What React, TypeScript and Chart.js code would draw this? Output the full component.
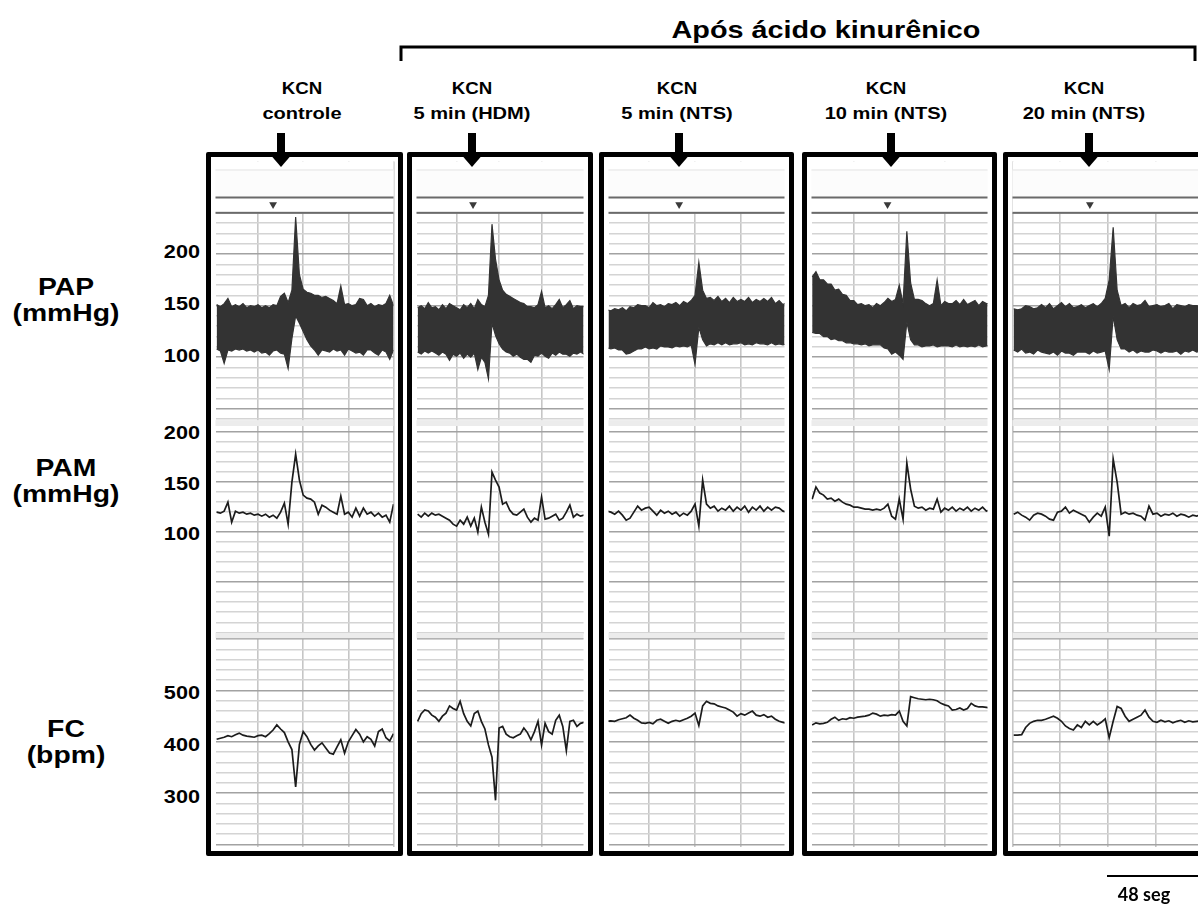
import React, { useEffect, useRef } from "react";
import { Chart, registerables } from "chart.js";

Chart.register(...registerables);

// ---------- data ----------
const PANEL_TOP = ["KCN", "KCN", "KCN", "KCN", "KCN"];
const PANEL_SUB = ["controle", "5 min (HDM)", "5 min (NTS)", "10 min (NTS)", "20 min (NTS)"];
const GROUP_TITLE = "Após ácido kinurênico";
const SCALE_LABEL = "48 seg";

// time (s): samples every 2 s starting at 2 s
const T_START = 2;
const T_STEP = 2;
const X_MIN = [1.4, 1.35, 2.75, 1.65, 1.4];
const X_MAX = [96.0, 95.7, 94.8, 94.6, 97.4];
const STIM_T = [32, 33.3, 39.7, 41.8, 40.3];

// PAP (mmHg) envelope: max / min of the pulsatile trace in each sample window
const P1_PAP_MAX = [151,149,152,157,149,151,149,152,148,150,149,151,148,150,148,151,150,159,162,153,165,236,180,166,163,162,160,160,158,159,157,155,152,169,151,152,150,151,157,156,150,152,149,151,150,152,160,150];
const P1_PAP_MIN = [108,106,94,107,106,108,107,108,106,107,105,107,104,105,102,106,107,104,103,89,118,140,133,125,117,111,107,102,107,106,105,108,106,107,102,108,106,104,105,102,107,107,104,102,107,105,98,107];
const P2_PAP_MAX = [148,150,147,153,148,149,146,151,147,152,150,148,146,151,148,152,147,156,151,149,160,229,195,175,165,161,159,157,155,153,152,149,149,148,151,164,148,150,147,151,156,148,151,155,147,150,149,149];
const P2_PAP_MIN = [105,103,106,104,106,104,102,105,103,97,103,101,104,99,103,100,104,88,100,95,79,133,121,113,108,105,104,101,103,100,98,98,95,102,101,104,101,99,104,102,105,103,103,101,104,103,105,103];
const P3_PAP_MAX = [146,145,147,146,148,145,149,148,151,150,150,148,153,150,151,149,152,151,153,150,154,152,155,160,192,165,157,158,155,159,154,157,153,158,154,156,154,158,153,156,154,157,154,158,152,155,151,153];
const P3_PAP_MIN = [109,108,109,107,107,103,104,106,108,108,110,108,109,108,111,110,110,109,111,110,111,110,112,93,129,117,111,113,112,114,112,114,112,113,113,114,112,113,112,114,113,113,112,114,112,113,112,113];
const P4_PAP_MAX = [178,183,175,175,171,171,165,166,161,160,155,155,151,152,150,151,148,152,150,153,157,154,156,170,152,222,172,156,156,155,152,150,152,175,150,154,152,152,155,151,156,151,153,155,150,154,152,152];
const P4_PAP_MIN = [124,123,123,120,120,117,118,116,116,114,114,113,113,112,113,111,112,112,112,109,108,103,105,102,98,134,117,112,112,110,111,111,112,110,111,111,111,110,112,110,111,110,111,110,112,110,111,111];
const P5_PAP_MAX = [147,146,147,150,149,147,148,151,148,152,147,150,153,149,152,148,149,151,148,150,152,149,152,157,175,226,165,150,152,148,152,150,151,155,149,150,151,149,150,152,147,151,150,149,151,150,150,149];
const P5_PAP_MIN = [107,105,108,104,105,103,107,105,104,103,105,102,106,104,104,102,105,105,105,103,106,104,105,106,88,140,117,108,108,105,107,104,106,105,105,107,106,104,106,105,105,106,103,106,105,107,105,106];

// PAM (mmHg)
const P1_PAM = [120,119,121,130,110,121,119,120,118,119,117,118,116,118,115,117,114,120,129,108,150,178,152,137,134,133,130,118,127,125,122,120,118,136,118,120,115,124,116,124,118,120,116,119,115,117,110,128];
const P2_PAM = [118,115,119,116,119,117,118,116,114,112,108,106,112,108,115,106,114,100,125,110,98,160,152,145,128,130,122,118,117,120,123,115,110,114,112,135,113,114,116,118,112,114,120,127,115,118,116,117];
const P3_PAM = [121,120,118,121,117,112,114,120,126,122,124,125,121,117,122,119,121,118,120,116,119,117,121,128,106,152,128,124,126,121,124,122,126,121,125,122,126,120,125,122,126,121,125,122,125,124,121,120];
const P4_PAM = [133,145,139,137,133,134,131,133,130,128,127,125,125,124,123,123,122,123,122,124,128,116,113,133,113,169,143,126,124,125,122,124,123,133,120,124,122,125,121,124,122,125,121,124,122,125,121,122];
const P5_PAM = [118,120,117,115,112,117,119,118,116,113,112,120,121,125,119,122,120,118,116,110,115,119,116,125,96,173,150,118,120,118,119,117,116,112,126,118,119,116,118,117,119,116,118,117,115,117,116,118];

// FC (bpm)
const P1_FC = [405,407,409,412,410,414,417,413,411,410,409,412,413,410,416,423,433,425,418,400,385,312,395,420,410,395,384,392,398,388,378,376,390,404,378,400,412,424,415,400,410,405,392,420,425,408,402,416];
const P2_FC = [440,455,462,460,452,448,440,450,456,470,465,462,479,455,440,431,455,460,440,425,394,370,286,427,430,415,410,408,412,415,427,418,404,420,440,394,436,420,415,442,452,430,383,440,442,430,436,438];
const P3_FC = [440,441,440,443,445,447,452,446,442,437,436,438,435,442,444,440,436,440,442,440,443,446,450,456,432,470,479,475,474,470,468,466,462,458,450,455,452,456,460,452,450,453,448,450,444,440,438,436];
const P4_FC = [433,437,435,436,438,444,448,442,445,444,447,446,448,449,450,452,456,454,450,452,451,453,452,460,440,431,488,486,484,483,482,483,482,480,475,472,470,462,463,466,462,465,475,470,468,468,467,466];
const P5_FC = [413,413,414,428,436,440,442,442,444,447,450,446,440,431,426,423,433,428,440,433,440,433,438,445,408,440,469,465,450,440,444,448,452,462,448,440,438,442,439,441,437,440,442,438,441,439,440,441];

const PAP_MAX = [P1_PAP_MAX, P2_PAP_MAX, P3_PAP_MAX, P4_PAP_MAX, P5_PAP_MAX];
const PAP_MIN = [P1_PAP_MIN, P2_PAP_MIN, P3_PAP_MIN, P4_PAP_MIN, P5_PAP_MIN];
const PAM = [P1_PAM, P2_PAM, P3_PAM, P4_PAM, P5_PAM];
const FC = [P1_FC, P2_FC, P3_FC, P4_FC, P5_FC];

// axis ranges and tick labels
const PAP_RANGE = [40, 240];
const PAM_RANGE = [0, 206];
const FC_RANGE = [196, 600];
const PAP_TICKS = ["200", "150", "100"];
const PAM_TICKS = ["200", "150", "100"];
const FC_TICKS = ["500", "400", "300"];

// ---------- layout ----------
const BOX_LEFT = [206, 407, 599, 802, 1003];
const BOX_INNER_W = [187, 176, 185, 185, 200];
const BOX_TOP = 152;
const BORDER = 5;
const INNER_H = 694;
const ARROW_X = [281, 472, 679, 891, 1089];
const SUB_X = [302, 472, 677, 886, 1084];
const FONT = '"Liberation Sans", Arial, sans-serif';

const decorPlugin = {
  id: "decor",
  beforeDatasetsDraw(chart: any) {
    const { ctx, chartArea } = chart;
    const head = chart.scales.yHead;
    const g1 = chart.scales.gap1;
    const g2 = chart.scales.gap2;
    const l = chartArea.left;
    const w = chartArea.right - chartArea.left;
    ctx.save();
    ctx.fillStyle = "#ffffff";
    ctx.fillRect(l, head.top, w, head.bottom - head.top);
    ctx.fillStyle = "#fcfcfc";
    ctx.fillRect(l, head.top + 8, w, 27);
    ctx.fillStyle = "#e4e4e4";
    ctx.fillRect(l, head.top + 8, w, 1);
    ctx.fillStyle = "#6a6a6a";
    ctx.fillRect(l, head.top + 35, w, 2);
    ctx.fillRect(l, head.bottom - 1, w, 2);
    ctx.fillStyle = "#ececec";
    ctx.fillRect(l, g1.top + 1, w, g1.bottom - g1.top - 1);
    ctx.fillRect(l, g2.top, w, g2.bottom - g2.top - 1);
    ctx.restore();
  },
};

function gridColor(major: number) {
  return (c: any) => (c.tick && Math.round(c.tick.value) % major === 0 ? "#a2a2a2" : "#d4d4d4");
}

function yAxis(range: number[], step: number, major: number, weight: number) {
  return {
    type: "linear",
    position: "left",
    stack: "ch",
    stackWeight: weight,
    min: range[0],
    max: range[1],
    afterFit: (s: any) => { s.width = 0; },
    ticks: { display: false, stepSize: step, includeBounds: false },
    grid: { color: gridColor(major), lineWidth: 1.6, drawTicks: false },
    border: { display: false },
  };
}

function blankAxis(weight: number) {
  return {
    type: "linear",
    position: "left",
    stack: "ch",
    stackWeight: weight,
    min: 0,
    max: 1,
    afterFit: (s: any) => { s.width = 0; },
    ticks: { display: false },
    grid: { display: false, drawTicks: false },
    border: { display: false },
  };
}

function Panel({ idx }: { idx: number }) {
  const ref = useRef<HTMLCanvasElement>(null);
  useEffect(() => {
    const canvas = ref.current;
    if (!canvas) return;
    const xs = PAP_MAX[idx].map((_, i) => T_START + i * T_STEP);
    const pts = (arr: number[]) => arr.map((v, i) => ({ x: xs[i], y: v }));
    const chart = new Chart(canvas, {
      type: "line",
      data: {
        datasets: [
          { data: pts(PAP_MAX[idx]), yAxisID: "yPAP", borderColor: "#333333", backgroundColor: "#333333", borderWidth: 1.2, pointRadius: 0, fill: "+1", tension: 0 },
          { data: pts(PAP_MIN[idx]), yAxisID: "yPAP", borderColor: "#333333", borderWidth: 1.2, pointRadius: 0, fill: false, tension: 0 },
          { data: pts(PAM[idx]), yAxisID: "yPAM", borderColor: "#1c1c1c", borderWidth: 1.7, pointRadius: 0, fill: false, tension: 0 },
          { data: pts(FC[idx]), yAxisID: "yFC", borderColor: "#1c1c1c", borderWidth: 1.7, pointRadius: 0, fill: false, tension: 0 },
          { type: "scatter", data: [{ x: STIM_T[idx], y: 0.16 }], yAxisID: "yHead", pointStyle: "triangle", rotation: 180, pointRadius: 4.5, backgroundColor: "#3a3a3a", borderColor: "#3a3a3a", borderWidth: 0 },
        ] as any,
      },
      options: {
        animation: false,
        responsive: false,
        maintainAspectRatio: false,
        events: [],
        layout: { padding: 0 },
        plugins: { legend: { display: false }, tooltip: { enabled: false }, title: { display: false } },
        scales: {
          x: {
            type: "linear",
            min: X_MIN[idx],
            max: X_MAX[idx],
            afterFit: (s: any) => { s.height = 0; },
            ticks: { display: false, stepSize: 24, includeBounds: false },
            grid: { color: "#c6c6c6", lineWidth: 1.6, drawTicks: false },
            border: { display: false },
          },
          yFC: yAxis(FC_RANGE, 20, 100, 210),
          gap2: blankAxis(7),
          yPAM: yAxis(PAM_RANGE, 10, 50, 209),
          gap1: blankAxis(7),
          yPAP: yAxis(PAP_RANGE, 10, 50, 209),
          yHead: blankAxis(52),
        } as any,
      },
      plugins: [decorPlugin],
    });
    return () => chart.destroy();
  }, [idx]);
  return (
    <div
      style={{
        position: "absolute",
        left: BOX_LEFT[idx],
        top: BOX_TOP,
        width: BOX_INNER_W[idx],
        height: INNER_H,
        border: `${BORDER}px solid #000`,
        borderRadius: 2,
        background: "#fff",
      }}
    >
      <canvas ref={ref} width={BOX_INNER_W[idx]} height={INNER_H} style={{ display: "block" }} />
    </div>
  );
}

function Txt({ x, y, text, size, sx = 1.1, align = "center" }: any) {
  const tx = align === "center" ? "-50%" : align === "right" ? "-100%" : "0";
  return (
    <div
      style={{
        position: "absolute",
        left: x,
        top: y,
        transform: `translate(${tx}, -50%) scaleX(${sx})`,
        transformOrigin: align === "right" ? "right center" : align === "center" ? "center center" : "left center",
        whiteSpace: "nowrap",
        fontFamily: FONT,
        fontWeight: 700,
        fontSize: size,
        lineHeight: 1,
        color: "#000",
      }}
    >
      {text}
    </div>
  );
}

export default function App() {
  useEffect(() => {
    document.body.style.margin = "0";
  }, []);
  const tickY = { pap: [251, 303, 355], pam: [432, 483, 533], fc: [692, 744, 796] };
  return (
    <div style={{ position: "fixed", left: 0, top: 0, width: 1198, height: 910, overflow: "hidden", background: "#fff" }}>
      <Txt x={826} y={30} text={GROUP_TITLE} size={24} sx={1.2} />
      {PANEL_TOP.map((t, i) => (
        <Txt key={"a" + i} x={SUB_X[i]} y={88} text={t} size={17} sx={1.1} />
      ))}
      {PANEL_SUB.map((t, i) => (
        <Txt key={"b" + i} x={SUB_X[i]} y={113} text={t} size={17} sx={1.18} />
      ))}

      <Txt x={66} y={287} text="PAP" size={24} sx={1.18} />
      <Txt x={66} y={313} text="(mmHg)" size={24} sx={1.18} />
      <Txt x={66} y={468} text="PAM" size={24} sx={1.18} />
      <Txt x={66} y={494} text="(mmHg)" size={24} sx={1.18} />
      <Txt x={66} y={729} text="FC" size={24} sx={1.18} />
      <Txt x={66} y={755} text="(bpm)" size={24} sx={1.18} />

      {PAP_TICKS.map((t, i) => <Txt key={"p" + i} x={200} y={tickY.pap[i]} text={t} size={19} sx={1.14} align="right" />)}
      {PAM_TICKS.map((t, i) => <Txt key={"m" + i} x={200} y={tickY.pam[i]} text={t} size={19} sx={1.14} align="right" />)}
      {FC_TICKS.map((t, i) => <Txt key={"f" + i} x={200} y={tickY.fc[i]} text={t} size={19} sx={1.14} align="right" />)}

      {[0, 1, 2, 3, 4].map((i) => <Panel key={i} idx={i} />)}

      <svg width={1198} height={910} style={{ position: "absolute", left: 0, top: 0, pointerEvents: "none" }}>
        <path d="M401 61 V47 H1195 V61" fill="none" stroke="#000" strokeWidth={3} />
        {ARROW_X.map((x, i) => (
          <g key={i}>
            <rect x={x - 4} y={133} width={8} height={25} fill="#000" />
            <path d={`M${x - 9.5} 156 L${x + 9.5} 156 L${x} 167 Z`} fill="#000" />
          </g>
        ))}
        <rect x={1107} y={875} width={95} height={2} fill="#000" />
      </svg>
      <div
        style={{
          position: "absolute",
          left: 1144,
          top: 894,
          transform: "translate(-50%, -50%)",
          fontFamily: "Lato, 'Open Sans', sans-serif",
          fontWeight: 700,
          fontSize: 18,
          color: "#000",
          whiteSpace: "nowrap",
        }}
      >
        {SCALE_LABEL}
      </div>
    </div>
  );
}
